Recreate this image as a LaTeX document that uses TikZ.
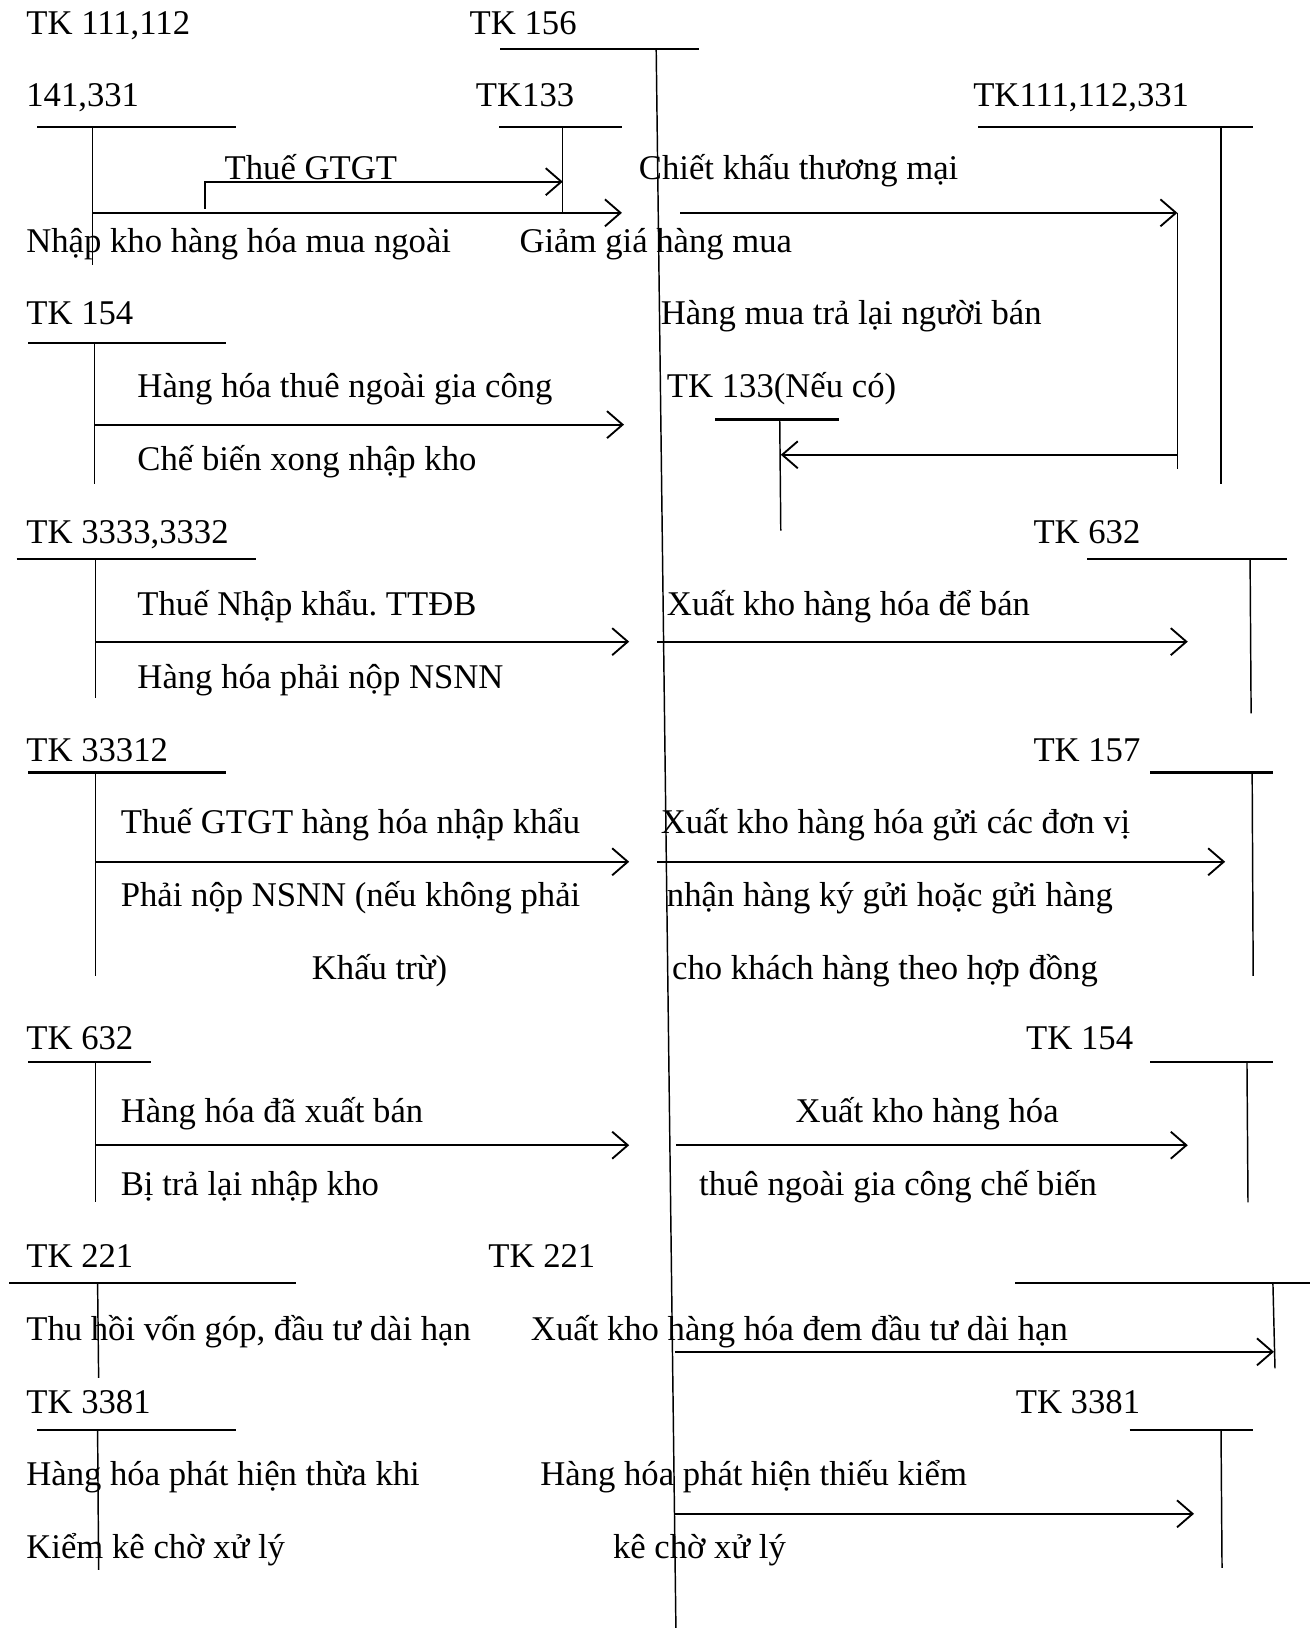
\documentclass[tikz,border=0pt]{standalone}
\usepackage{fontspec}
\setmainfont{Liberation Serif}
\usetikzlibrary{arrows.meta}
\frenchspacing
\begin{document}
\begin{tikzpicture}[x=0.5pt,y=-0.5pt,
  lbl/.style={anchor=base west,inner sep=0pt,font=\fontsize{16.7}{20}\selectfont},
  tbar/.style={line width=1pt},
  tstem/.style={line width=0.7pt},
  flow/.style={line width=1pt,-{Straight Barb[length=7.5pt,width=13pt,line width=0.9pt]}},
  plain/.style={line width=1pt}]
\useasboundingbox (0,0) rectangle (1265,1568);
% ---------- texts ----------
\node[lbl] (t1) at (25,33) {TK 111,112};
\node[lbl] (t2) at (452,33) {TK 156};
\node[lbl] (t3) at (25,103) {141,331};
\node[lbl] (t4) at (458,103) {TK133};
\node[lbl] (t5) at (937,103) {TK111,112,331};
\node[lbl] (t6) at (216,173) {Thuế GTGT};
\node[lbl] (t7) at (615,173) {Chiết khấu thương mại};
\node[lbl] (t8) at (25,243) {Nhập kho hàng hóa mua ngoài};
\node[lbl] (t9) at (500,243) {Giảm giá hàng mua};
\node[lbl] (t10) at (25,313) {TK 154};
\node[lbl] (t11) at (636,313) {Hàng mua trả lại người bán};
\node[lbl] (t12) at (132,383) {Hàng hóa thuê ngoài gia công};
\node[lbl] (t13) at (642,383) {TK 133(Nếu có)};
\node[lbl] (t14) at (132,453) {Chế biến xong nhập kho};
\node[lbl] (t15) at (25,523) {TK 3333,3332};
\node[lbl] (t16) at (995,523) {TK 632};
\node[lbl] (t17) at (132,593) {Thuế Nhập khẩu. TTĐB};
\node[lbl] (t18) at (642,593) {Xuất kho hàng hóa để bán};
\node[lbl] (t19) at (132,663) {Hàng hóa phải nộp NSNN};
\node[lbl] (t20) at (25,733) {TK 33312};
\node[lbl] (t21) at (995,733) {TK 157};
\node[lbl] (t22) at (116,803) {Thuế GTGT hàng hóa nhập khẩu};
\node[lbl] (t23) at (636,803) {Xuất kho hàng hóa gửi các đơn vị};
\node[lbl] (t24) at (116,873) {Phải nộp NSNN (nếu không phải};
\node[lbl] (t25) at (642,873) {nhận hàng ký gửi hoặc gửi hàng};
\node[lbl] (t26) at (300,943) {Khấu trừ)};
\node[lbl] (t27) at (647,943) {cho khách hàng theo hợp đồng};
\node[lbl] (t28) at (25,1011) {TK 632};
\node[lbl] (t29) at (988,1011) {TK 154};
\node[lbl] (t30) at (116,1081) {Hàng hóa đã xuất bán};
\node[lbl] (t31) at (766,1081) {Xuất kho hàng hóa};
\node[lbl] (t32) at (116,1151) {Bị trả lại nhập kho};
\node[lbl] (t33) at (673,1151) {thuê ngoài gia công chế biến};
\node[lbl] (t34) at (25,1221) {TK 221};
\node[lbl] (t35) at (470,1221) {TK 221};
\node[lbl] (t36) at (25,1291) {Thu hồi vốn góp, đầu tư dài hạn};
\node[lbl] (t37) at (511,1291) {Xuất kho hàng hóa đem đầu tư dài hạn};
\node[lbl] (t38) at (25,1361) {TK 3381};
\node[lbl] (t39) at (978,1361) {TK 3381};
\node[lbl] (t40) at (25,1431) {Hàng hóa phát hiện thừa khi};
\node[lbl] (t41) at (520,1431) {Hàng hóa phát hiện thiếu kiểm};
\node[lbl] (t42) at (25,1501) {Kiểm kê chờ xử lý};
\node[lbl] (t43) at (590,1501) {kê chờ xử lý};
% ---------- TK 156 (central account) ----------
\coordinate (a156L) at (482,47); \coordinate (a156R) at (673,47);
\coordinate (a156T) at (632,47); \coordinate (a156B) at (651,1568);
\draw[tbar] (a156L) -- (a156R);
\draw[tstem] (a156T) -- (a156B);
% ---------- 141,331 ----------
\coordinate (b1L) at (36,122); \coordinate (b1R) at (227,122);
\coordinate (b1T) at (89,122); \coordinate (b1B) at (89,255);
\draw[tbar] (b1L) -- (b1R); \draw[tstem] (b1T) -- (b1B);
% ---------- TK133 ----------
\coordinate (c1L) at (481,122); \coordinate (c1R) at (599,122);
\coordinate (c1T) at (542,122); \coordinate (c1B) at (542,205);
\draw[tbar] (c1L) -- (c1R); \draw[tstem] (c1T) -- (c1B);
\coordinate (f1s) at (89,205); \coordinate (f1e) at (599,205);
\draw[flow] (f1s) -- (f1e);
\coordinate (g1s) at (197,201); \coordinate (g1m) at (197,175); \coordinate (g1e) at (542,175);
\draw[flow] (g1s) -- (g1m) -- (g1e);
% ---------- TK111,112,331 ----------
\coordinate (d1L) at (942,122); \coordinate (d1R) at (1207,122);
\coordinate (d1T) at (1176,122); \coordinate (d1B) at (1176,466);
\draw[tbar] (d1L) -- (d1R); \draw[tstem] (d1T) -- (d1B);
\coordinate (h1s) at (655,205); \coordinate (h1e) at (1134,205);
\draw[flow] (h1s) -- (h1e);
\coordinate (h1b) at (1134,452);
\draw[tstem] (h1e) -- (h1b);
\coordinate (h2s) at (1134,438); \coordinate (h2e) at (752,438);
\draw[flow] (h2s) -- (h2e);
% ---------- TK 133 (Neu co) ----------
\coordinate (e1L) at (689,404); \coordinate (e1R) at (808,404);
\coordinate (e1T) at (751,404); \coordinate (e1B) at (752,511);
\draw[tbar] (e1L) -- (e1R); \draw[tstem] (e1T) -- (e1B);
% ---------- TK 154 (left) ----------
\coordinate (k1L) at (27,330); \coordinate (k1R) at (218,330);
\coordinate (k1T) at (91,330); \coordinate (k1B) at (91,466);
\draw[tbar] (k1L) -- (k1R); \draw[tstem] (k1T) -- (k1B);
\coordinate (k1s) at (91,409); \coordinate (k1e) at (601,409);
\draw[flow] (k1s) -- (k1e);
% ---------- TK 3333,3332 ----------
\coordinate (m1L) at (16,538); \coordinate (m1R) at (247,538);
\coordinate (m1T) at (92,538); \coordinate (m1B) at (92,672);
\draw[tbar] (m1L) -- (m1R); \draw[tstem] (m1T) -- (m1B);
\coordinate (m1s) at (92,618); \coordinate (m1e) at (606,618);
\draw[flow] (m1s) -- (m1e);
% ---------- TK 632 (right) ----------
\coordinate (n1L) at (1047,538); \coordinate (n1R) at (1240,538);
\coordinate (n1T) at (1204,538); \coordinate (n1B) at (1205,687);
\draw[tbar] (n1L) -- (n1R); \draw[tstem] (n1T) -- (n1B);
\coordinate (n1s) at (633,618); \coordinate (n1e) at (1144,618);
\draw[flow] (n1s) -- (n1e);
% ---------- TK 33312 ----------
\coordinate (p1L) at (27,744); \coordinate (p1R) at (218,744);
\coordinate (p1T) at (92,744); \coordinate (p1B) at (92,940);
\draw[tbar] (p1L) -- (p1R); \draw[tstem] (p1T) -- (p1B);
\coordinate (p1s) at (92,830); \coordinate (p1e) at (606,830);
\draw[flow] (p1s) -- (p1e);
% ---------- TK 157 ----------
\coordinate (q1L) at (1108,744); \coordinate (q1R) at (1226,744);
\coordinate (q1T) at (1206,744); \coordinate (q1B) at (1207,940);
\draw[tbar] (q1L) -- (q1R); \draw[tstem] (q1T) -- (q1B);
\coordinate (q1s) at (633,830); \coordinate (q1e) at (1180,830);
\draw[flow] (q1s) -- (q1e);
% ---------- TK 632 (left) ----------
\coordinate (r1L) at (27,1023); \coordinate (r1R) at (145,1023);
\coordinate (r1T) at (92,1023); \coordinate (r1B) at (92,1158);
\draw[tbar] (r1L) -- (r1R); \draw[tstem] (r1T) -- (r1B);
\coordinate (r1s) at (92,1103); \coordinate (r1e) at (606,1103);
\draw[flow] (r1s) -- (r1e);
% ---------- TK 154 (right) ----------
\coordinate (s1L) at (1108,1023); \coordinate (s1R) at (1226,1023);
\coordinate (s1T) at (1201,1023); \coordinate (s1B) at (1202,1158);
\draw[tbar] (s1L) -- (s1R); \draw[tstem] (s1T) -- (s1B);
\coordinate (s1s) at (651,1103); \coordinate (s1e) at (1144,1103);
\draw[flow] (s1s) -- (s1e);
% ---------- TK 221 (left) ----------
\coordinate (u1L) at (9,1236); \coordinate (u1R) at (285,1236);
\coordinate (u1T) at (94,1236); \coordinate (u1B) at (95,1327);
\draw[tbar] (u1L) -- (u1R); \draw[tstem] (u1T) -- (u1B);
% ---------- TK 221 (right) ----------
\coordinate (v1L) at (978,1236); \coordinate (v1R) at (1262,1236);
\coordinate (v1T) at (1226,1236); \coordinate (v1B) at (1228,1318);
\draw[tbar] (v1L) -- (v1R); \draw[tstem] (v1T) -- (v1B);
\coordinate (v1s) at (650,1302); \coordinate (v1e) at (1227,1302);
\draw[flow] (v1s) -- (v1e);
% ---------- TK 3381 (left) ----------
\coordinate (w1L) at (36,1377); \coordinate (w1R) at (227,1377);
\coordinate (w1T) at (94,1377); \coordinate (w1B) at (95,1512);
\draw[tbar] (w1L) -- (w1R); \draw[tstem] (w1T) -- (w1B);
% ---------- TK 3381 (right) ----------
\coordinate (x1L) at (1088,1377); \coordinate (x1R) at (1207,1377);
\coordinate (x1T) at (1176,1377); \coordinate (x1B) at (1177,1510);
\draw[tbar] (x1L) -- (x1R); \draw[tstem] (x1T) -- (x1B);
\coordinate (x1s) at (650,1458); \coordinate (x1e) at (1150,1458);
\draw[flow] (x1s) -- (x1e);
\end{tikzpicture}
\end{document}
